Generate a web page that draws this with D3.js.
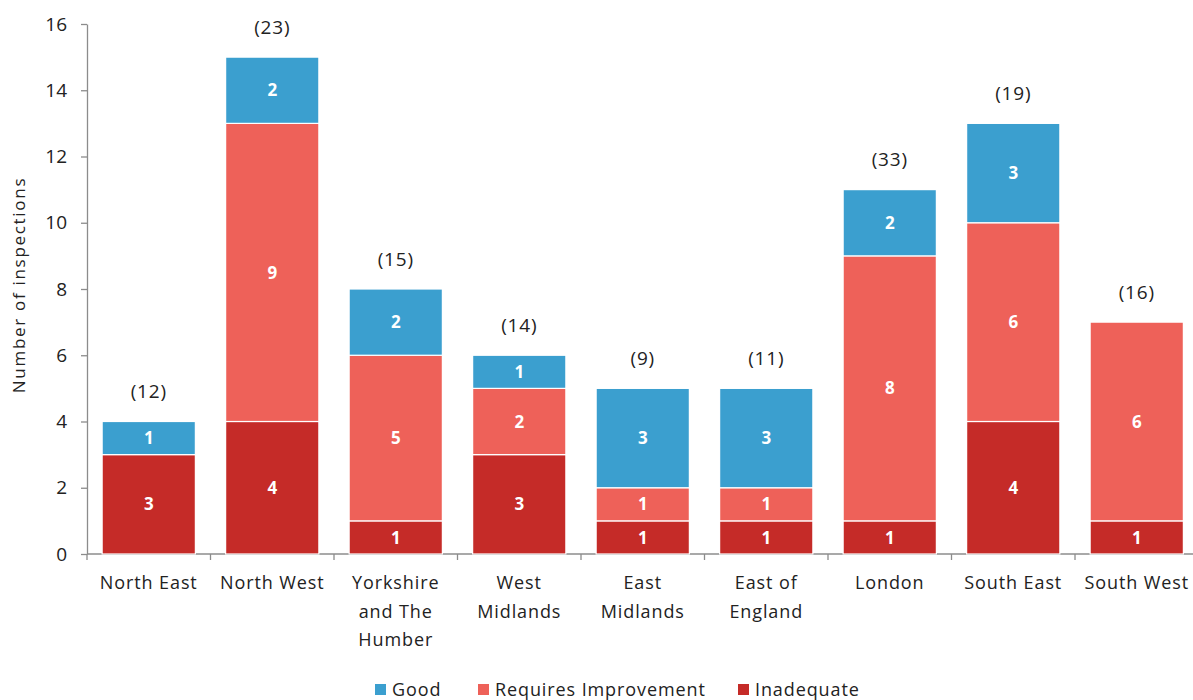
<!DOCTYPE html>
<html>
<head>
<meta charset="utf-8">
<script src="https://d3js.org/d3.v7.min.js"></script>
<style>
  body { margin: 0; background: #fff; }
  svg { display: block; font-family: "Open Sans", sans-serif; }
</style>
</head>
<body>
<svg id="chart" width="1193" height="700"></svg>
<script>
const categories = [["North East"], ["North West"], ["Yorkshire", "and The", "Humber"], ["West", "Midlands"], ["East", "Midlands"], ["East of", "England"], ["London"], ["South East"], ["South West"]];
const inadequate = [3, 4, 1, 3, 1, 1, 1, 4, 1];
const requiresImprovement = [0, 9, 5, 2, 1, 1, 8, 6, 6];
const good = [1, 2, 2, 1, 3, 3, 2, 3, 0];
const totals = ["(12)", "(23)", "(15)", "(14)", "(9)", "(11)", "(33)", "(19)", "(16)"];
const yTicks = [0, 2, 4, 6, 8, 10, 12, 14, 16];
const seriesNames = ["Good", "Requires Improvement", "Inadequate"];
const seriesColors = { "Good": "#3b9fcf", "Requires Improvement": "#ee6159", "Inadequate": "#c52b28" };

const FONT = "'Open Sans', sans-serif";
const svg = d3.select("#chart");
const keys = categories.map(c => c.join(" "));
const x = d3.scaleBand().domain(keys).range([87, 1198.5]).paddingInner(0.245).paddingOuter(0.1225);
const y = d3.scaleLinear().domain([0, 16]).range([554, 24]);

const rows = keys.map((k, i) => ({ key: k, "Inadequate": inadequate[i], "Requires Improvement": requiresImprovement[i], "Good": good[i] }));
const stack = d3.stack().keys(["Inadequate", "Requires Improvement", "Good"]);
const layers = stack(rows);

// y axis
const yAxis = d3.axisLeft(y).tickValues(yTicks).tickSize(6).tickSizeOuter(0).tickPadding(14);
const gy = svg.append("g").attr("transform", "translate(87,0)").call(yAxis);
gy.select(".domain").attr("stroke", "#8c8c8c").attr("stroke-width", 1.3);
gy.selectAll(".tick line").attr("stroke", "#8c8c8c").attr("stroke-width", 1.3);
gy.selectAll(".tick text").attr("font-size", 19).attr("fill", "#222").attr("font-family", FONT);

// x axis baseline with ticks at band boundaries
const step = x.step();
const boundaries = d3.range(0, keys.length + 1).map(i => 87 + i * step);
svg.append("line").attr("x1", 87).attr("x2", 1193).attr("y1", 554).attr("y2", 554).attr("stroke", "#8c8c8c").attr("stroke-width", 1.3);
svg.selectAll(".xtick").data(boundaries).enter().append("line")
  .attr("x1", d => d).attr("x2", d => d).attr("y1", 554).attr("y2", 560)
  .attr("stroke", "#8c8c8c").attr("stroke-width", 1.3);

// bars
layers.forEach(layer => {
  const name = layer.key;
  const g = svg.append("g");
  layer.forEach((d, i) => {
    const v = d[1] - d[0];
    if (v <= 0) return;
    g.append("rect")
      .attr("x", x(keys[i]))
      .attr("width", x.bandwidth())
      .attr("y", y(d[1]))
      .attr("height", y(d[0]) - y(d[1]))
      .attr("fill", seriesColors[name])
      .attr("stroke", "#fff").attr("stroke-width", 1.2);
    g.append("text")
      .attr("x", x(keys[i]) + x.bandwidth() / 2)
      .attr("y", (y(d[0]) + y(d[1])) / 2)
      .attr("dy", "0.36em")
      .attr("text-anchor", "middle")
      .attr("font-size", 17).attr("font-weight", "bold").attr("fill", "#fff")
      .text(v);
  });
});

// totals
const tops = layers[layers.length - 1];
svg.selectAll(".total").data(totals).enter().append("text")
  .attr("x", (d, i) => x(keys[i]) + x.bandwidth() / 2)
  .attr("y", (d, i) => y(tops[i][1]) - 30)
  .attr("dy", "0.36em")
  .attr("text-anchor", "middle")
  .attr("font-size", 19).attr("fill", "#222").attr("letter-spacing", 0.8)
  .text(d => d);

// category labels
categories.forEach((lines, i) => {
  const cx = x(keys[i]) + x.bandwidth() / 2;
  const t = svg.append("text")
    .attr("text-anchor", "middle")
    .attr("font-size", 18).attr("fill", "#222").attr("letter-spacing", 0.9);
  lines.forEach((ln, j) => {
    t.append("tspan").attr("x", cx).attr("y", 589 + j * 28.5).text(ln);
  });
});

// y title
svg.append("text")
  .attr("transform", "translate(25,285) rotate(-90)")
  .attr("text-anchor", "middle")
  .attr("font-size", 17).attr("fill", "#222").attr("letter-spacing", 1.7)
  .text("Number of inspections");

// legend
const legendX = [375, 478, 738];
seriesNames.forEach((n, i) => {
  svg.append("rect").attr("x", legendX[i]).attr("y", 684).attr("width", 11).attr("height", 11).attr("fill", seriesColors[n]);
  svg.append("text").attr("x", legendX[i] + 17).attr("y", 696).attr("font-size", 18).attr("fill", "#222").attr("letter-spacing", 0.9).text(n);
});
</script>
</body>
</html>
